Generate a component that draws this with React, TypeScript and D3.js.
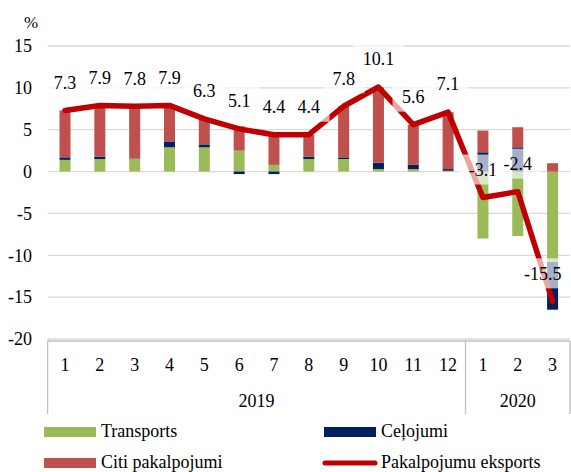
import React, { useRef, useEffect } from "react";
import * as d3 from "d3";

// months shown on the axis (2019: 1-12, 2020: 1-3)
const months = ["1", "2", "3", "4", "5", "6", "7", "8", "9", "10", "11", "12", "1", "2", "3"];
const years = [
  { label: "2019", count: 12 },
  { label: "2020", count: 3 },
];

// contributions, percentage points
const transports = [1.4, 1.5, 1.5, 2.9, 2.9, 2.5, 0.8, 1.5, 1.5, 0.3, 0.3, 0.1, -8.0, -7.7, -10.8];
const celojumi = [0.3, 0.3, 0.05, 0.7, 0.35, -0.3, -0.3, 0.3, 0.2, 0.75, 0.5, 0.2, 2.3, 2.9, -5.7];
const citi = [5.6, 6.1, 6.2, 4.3, 3.1, 2.9, 3.9, 2.6, 6.1, 9.0, 4.8, 6.8, 2.6, 2.4, 1.0];
// total services exports, %
const eksports = [7.3, 7.9, 7.8, 7.9, 6.3, 5.1, 4.4, 4.4, 7.8, 10.1, 5.6, 7.1, -3.1, -2.4, -15.5];

const yTicks = [15, 10, 5, 0, -5, -10, -15, -20];

const seriesNames = ["Transports", "Ceļojumi", "Citi pakalpojumi"];
const seriesColors = ["#9bbb59", "#002060", "#c0504d"];
const lineName = "Pakalpojumu eksports";
const lineColor = "#c00000";

const W = 571;
const H = 472;
const FONT = "'Liberation Serif', 'Times New Roman', serif";

function Chart() {
  const ref = useRef(null);

  useEffect(() => {
    const svg = d3.select(ref.current);
    svg.selectAll("*").remove();

    const left = 47.6, right = 570;
    const top = 46, bottom = 339;

    const x = d3.scaleBand().domain(d3.range(months.length)).range([left, right]).padding(0);
    const y = d3.scaleLinear().domain([-20, 15]).range([bottom, top]);
    const cx = (i) => x(i) + x.bandwidth() / 2;

    // grid
    svg.append("g")
      .selectAll("line")
      .data(yTicks)
      .enter()
      .append("line")
      .attr("x1", left).attr("x2", right)
      .attr("y1", (d) => y(d)).attr("y2", (d) => y(d))
      .attr("stroke", "#d9d9d9").attr("stroke-width", 1.3);

    // y tick labels
    svg.append("g")
      .selectAll("text")
      .data(yTicks)
      .enter()
      .append("text")
      .attr("x", 32)
      .attr("y", (d) => y(d))
      .attr("dy", "0.35em")
      .attr("text-anchor", "end")
      .style("font-family", FONT).style("font-size", "18px")
      .text((d) => d);

    svg.append("text")
      .attr("x", 31).attr("y", 22).attr("dy", "0.35em")
      .attr("text-anchor", "middle")
      .style("font-family", FONT).style("font-size", "17px")
      .text("%");

    // stacked bars
    const rows = months.map((m, i) => ({ t: transports[i], c: celojumi[i], o: citi[i] }));
    const stack = d3.stack().keys(["t", "c", "o"]).offset(d3.stackOffsetDiverging);
    const layers = stack(rows);
    const barW = 11;

    svg.append("g")
      .selectAll("g")
      .data(layers)
      .enter()
      .append("g")
      .attr("fill", (d, k) => seriesColors[k])
      .selectAll("rect")
      .data((d) => d)
      .enter()
      .append("rect")
      .attr("x", (d, i) => cx(i) - barW / 2)
      .attr("width", barW)
      .attr("y", (d) => y(Math.max(d[0], d[1])))
      .attr("height", (d) => Math.abs(y(d[0]) - y(d[1])));

    // total line
    const line = d3.line().x((d, i) => cx(i)).y((d) => y(d));
    svg.append("path")
      .datum(eksports)
      .attr("d", line)
      .attr("fill", "none")
      .attr("stroke", lineColor)
      .attr("stroke-width", 5.5)
      .attr("stroke-linejoin", "round")
      .attr("stroke-linecap", "round");

    // data labels with semi-transparent boxes
    const lbl = svg.append("g");
    eksports.forEach((v, i) => {
      const g = lbl.append("g");
      const box = g.append("rect");
      const t = g.append("text")
        .attr("text-anchor", "middle")
        .attr("dy", "0.35em")
        .style("font-family", FONT).style("font-size", "18px")
        .text(v.toFixed(1));
      const tw = t.node().getComputedTextLength();
      const bw = tw + 19, bh = 30;
      let px = cx(i);
      if (px + bw / 2 > W) px = W - bw / 2;
      const py = y(v) - 28;
      t.attr("x", px).attr("y", py);
      box.attr("x", px - bw / 2).attr("y", py - bh / 2)
        .attr("width", bw).attr("height", bh)
        .attr("fill", "#fff").attr("fill-opacity", 0.65);
    });

    // category table below the plot
    const xa = svg.append("g");
    const tableBottom = 414;
    xa.append("line")
      .attr("x1", left).attr("x2", right).attr("y1", 341).attr("y2", 341)
      .attr("stroke", "#bfbfbf").attr("stroke-width", 1.3);
    let start = 0;
    const seps = [0];
    years.forEach((yr) => {
      start += yr.count;
      seps.push(start);
    });
    xa.selectAll("line.sep")
      .data(seps)
      .enter()
      .append("line")
      .attr("class", "sep")
      .attr("x1", (d) => (d < months.length ? x(d) : right))
      .attr("x2", (d) => (d < months.length ? x(d) : right))
      .attr("y1", 341).attr("y2", tableBottom)
      .attr("stroke", "#bfbfbf").attr("stroke-width", 1.3);

    xa.selectAll("text.m")
      .data(months)
      .enter()
      .append("text")
      .attr("class", "m")
      .attr("x", (d, i) => cx(i))
      .attr("y", 365).attr("dy", "0.35em")
      .attr("text-anchor", "middle")
      .style("font-family", FONT).style("font-size", "18px")
      .text((d) => d);

    let acc = 0;
    years.forEach((yr) => {
      const a = x(acc);
      const b = acc + yr.count < months.length ? x(acc + yr.count) : right;
      xa.append("text")
        .attr("x", (a + b) / 2).attr("y", 401).attr("dy", "0.35em")
        .attr("text-anchor", "middle")
        .style("font-family", FONT).style("font-size", "18px")
        .text(yr.label);
      acc += yr.count;
    });

    // legend
    const lg = svg.append("g");
    const legendItems = [
      { name: seriesNames[0], color: seriesColors[0], x: 44, y: 432, kind: "rect" },
      { name: seriesNames[1], color: seriesColors[1], x: 324, y: 432, kind: "rect" },
      { name: seriesNames[2], color: seriesColors[2], x: 44, y: 463, kind: "rect" },
      { name: lineName, color: lineColor, x: 324, y: 463, kind: "line" },
    ];
    legendItems.forEach((it) => {
      if (it.kind === "rect") {
        lg.append("rect")
          .attr("x", it.x).attr("y", it.y - 5).attr("width", 52).attr("height", 10)
          .attr("fill", it.color);
      } else {
        lg.append("line")
          .attr("x1", it.x + 1).attr("x2", it.x + 51)
          .attr("y1", it.y).attr("y2", it.y)
          .attr("stroke", it.color).attr("stroke-width", 5)
          .attr("stroke-linecap", "round");
      }
      lg.append("text")
        .attr("x", it.x + 57).attr("y", it.y + 5)
        .style("font-family", FONT).style("font-size", "18px")
        .text(it.name);
    });
  }, []);

  return (
    <svg
      ref={ref}
      width={W}
      height={H}
      style={{ position: "absolute", left: 0, top: 0, background: "#fff" }}
    />
  );
}

export default function App() {
  return <Chart />;
}
